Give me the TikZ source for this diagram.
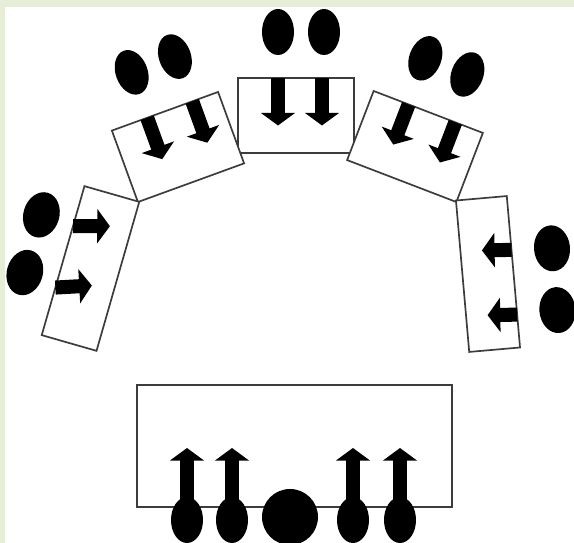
\documentclass[tikz,border=0pt]{standalone}
\usepackage{tikz}
\usetikzlibrary{arrows.meta}
\usepackage{xcolor}
\definecolor{BGG}{RGB}{230,238,216}
\definecolor{DG}{RGB}{60,60,60}
\tikzset{
  tablebox/.style={draw=DG, line width=1.2pt, fill=white},
  guest/.style={fill=black},
  facing/.style={line width=10pt, -{Triangle[width=24pt,length=9pt]}}
}
\begin{document}
\begin{tikzpicture}[x=0.025cm, y=0.025cm]
\useasboundingbox (0,0) rectangle (574,-543);
\clip (0,0) rectangle (574,-543);
% Background
\fill[BGG] (0,0) rectangle (574,-543);
\fill[white] (5,-7) rectangle (574,-543);

% Top table
\begin{scope}[shift={(296,-115.5)}]
  \draw[tablebox] (-58,-37.5) rectangle (58,37.5);
  \draw[facing] (-18,37.5) -- (-18,-10);
  \draw[facing] (26,37.5) -- (26,-10);
  \fill[guest] (-18,83.5) ellipse [x radius=16, y radius=23];
  \fill[guest] (28,83.5) ellipse [x radius=16, y radius=23];
\end{scope}

% Upper left table
\begin{scope}[shift={(178,-147)}, rotate=20]
  \draw[tablebox] (-56.5,-38) rectangle (56.5,38);
  \draw[facing] (-19,38) -- (-19,-6);
  \draw[facing] (29,38) -- (29,-6);
  \fill[guest] (-18,86) ellipse [x radius=16, y radius=23];
  \fill[guest] (28,86) ellipse [x radius=16, y radius=23];
\end{scope}

% Upper right table
\begin{scope}[shift={(415,-146.5)}, rotate=-21]
  \draw[tablebox] (-58.5,-37) rectangle (58.5,37);
  \draw[facing] (-21,37) -- (-21,-6);
  \draw[facing] (29,37) -- (29,-6);
  \fill[guest] (-22,86) ellipse [x radius=16, y radius=23];
  \fill[guest] (23,86) ellipse [x radius=16, y radius=23];
\end{scope}

% Left side table
\begin{scope}[shift={(90.5,-268.5)}, rotate=-16]
  \draw[tablebox] (-28.5,-77.5) rectangle (28.5,77.5);
  \draw[facing] (-28.5,36) -- (7,46);
  \draw[facing] (-28.5,-28) -- (6,-16);
  \fill[guest] (-62,38) ellipse [x radius=18, y radius=23];
  \fill[guest] (-62,-22) ellipse [x radius=18, y radius=23];
\end{scope}

% Right side table
\begin{scope}[shift={(488,-274)}, rotate=5]
  \draw[tablebox] (-25.5,-76) rectangle (25.5,76);
  \draw[facing] (25.5,22) -- (-4,24);
  \draw[facing] (25.5,-43) -- (-4,-41);
  \fill[guest] (66,20) ellipse [x radius=18, y radius=23];
  \fill[guest] (66,-42) ellipse [x radius=18, y radius=23];
\end{scope}

% Head table
\draw[tablebox] (137,-385) rectangle (452,-507);
\draw[facing] (187,-515) -- (187,-448);
\draw[facing] (232,-515) -- (232,-448);
\draw[facing] (353,-515) -- (353,-448);
\draw[facing] (400,-515) -- (400,-448);
\fill[guest] (187,-520) ellipse [x radius=16, y radius=23];
\fill[guest] (232,-520) ellipse [x radius=16, y radius=23];
\fill[guest] (290,-517) circle [radius=28];
\fill[guest] (353,-520) ellipse [x radius=16, y radius=23];
\fill[guest] (400,-520) ellipse [x radius=16, y radius=23];
\end{tikzpicture}
\end{document}
